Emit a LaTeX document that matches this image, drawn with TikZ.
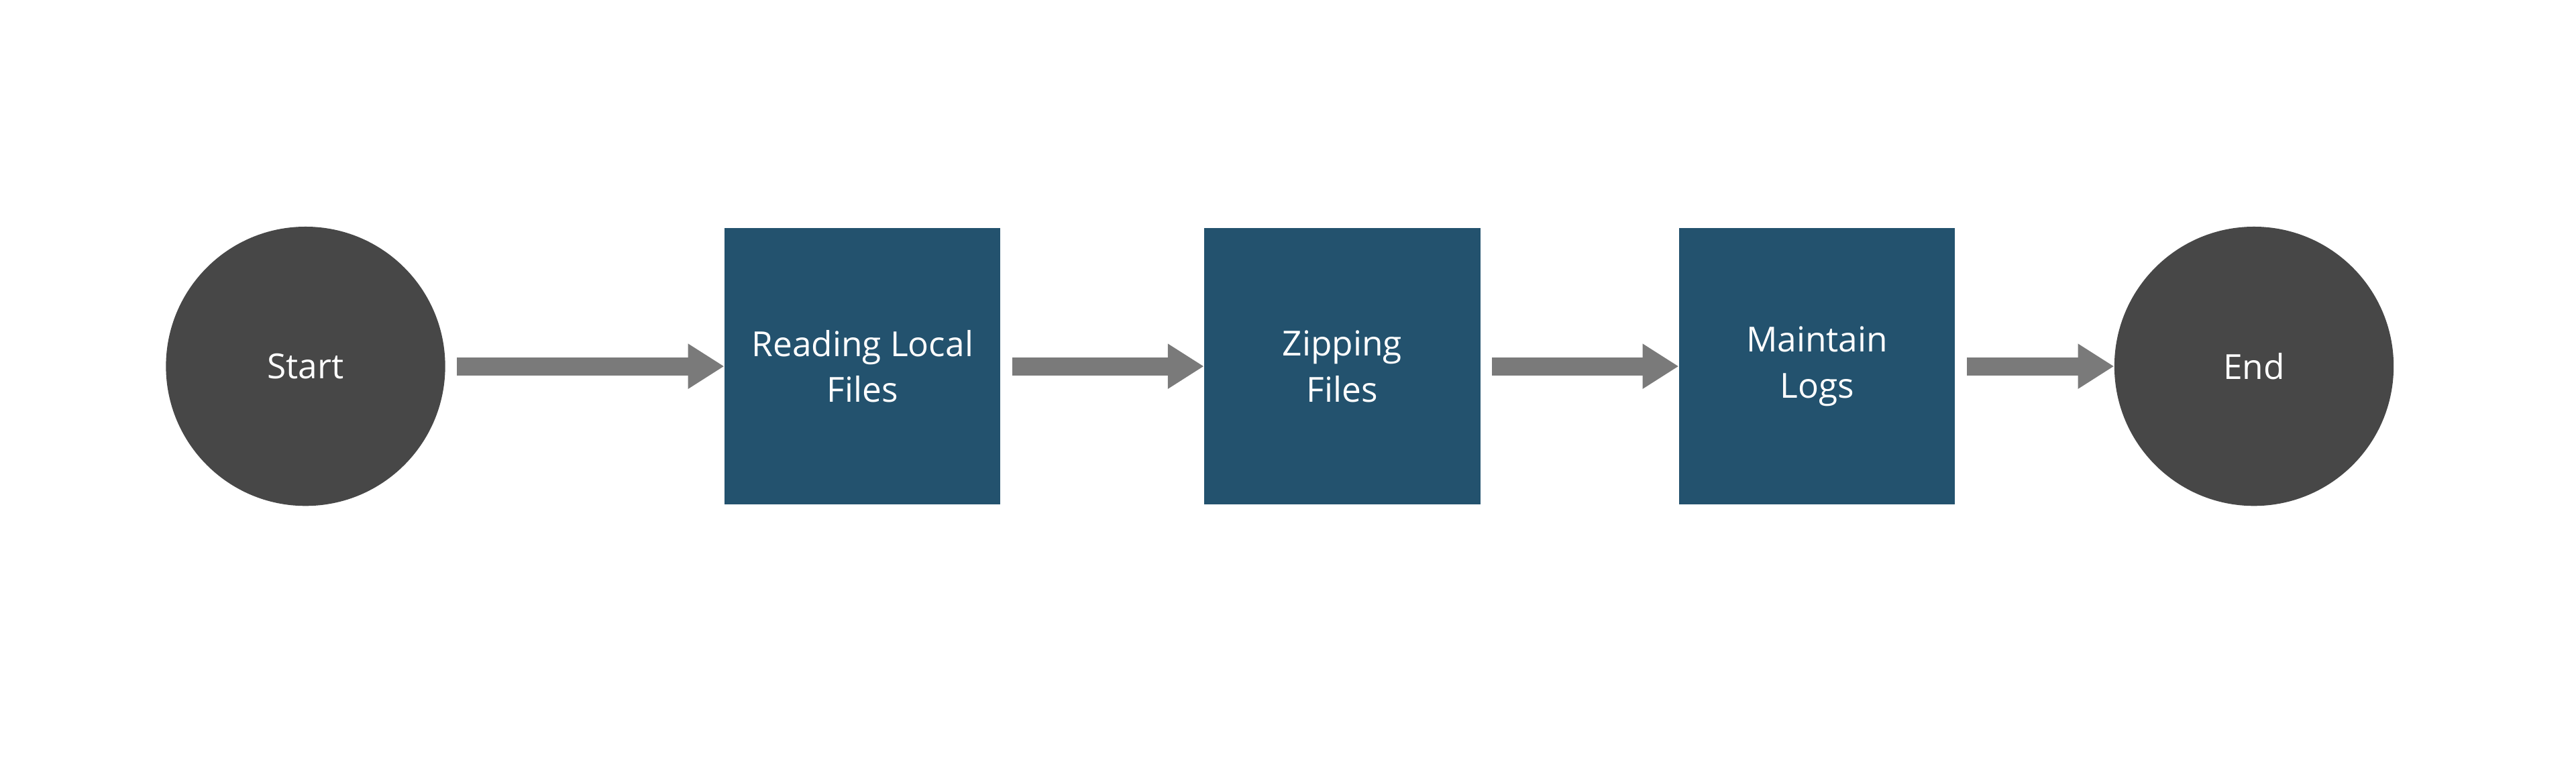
\documentclass[tikz,border=0pt]{standalone}
\usepackage{fontspec}
\setmainfont{Open Sans}
\usetikzlibrary{arrows.meta}
\definecolor{bx}{HTML}{23526E}
\definecolor{ar}{HTML}{7A7A7A}
\definecolor{cc}{HTML}{474747}
\begin{document}
\begin{tikzpicture}[x=1pt,y=-1pt,
  circ/.style={circle,fill=cc,minimum size=170pt,inner sep=0pt,text=white,font=\fontsize{21}{26}\selectfont},
  box/.style={rectangle,fill=bx,minimum size=168pt,inner sep=0pt,text=white,align=center,font=\fontsize{21}{28}\selectfont},
  flow/.style={draw=ar,line width=11pt,-{Triangle[length=22pt,width=26pt]},shorten <=7pt}]
\useasboundingbox (0,0) rectangle (1568,472.4);
\node[circ] (s) at (186,223) {Start};
\node[box] (a) at (525,223) {Reading Local\\Files};
\node[box] (b) at (817,223) {Zipping\\Files};
\node[box] (c) at (1106,223) {Maintain\\Logs};
\node[circ] (e) at (1372,223) {End};
\draw[flow] (s) -- (a);
\draw[flow] (a) -- (b);
\draw[flow] (b) -- (c);
\draw[flow] (c) -- (e);
\end{tikzpicture}
\end{document}
